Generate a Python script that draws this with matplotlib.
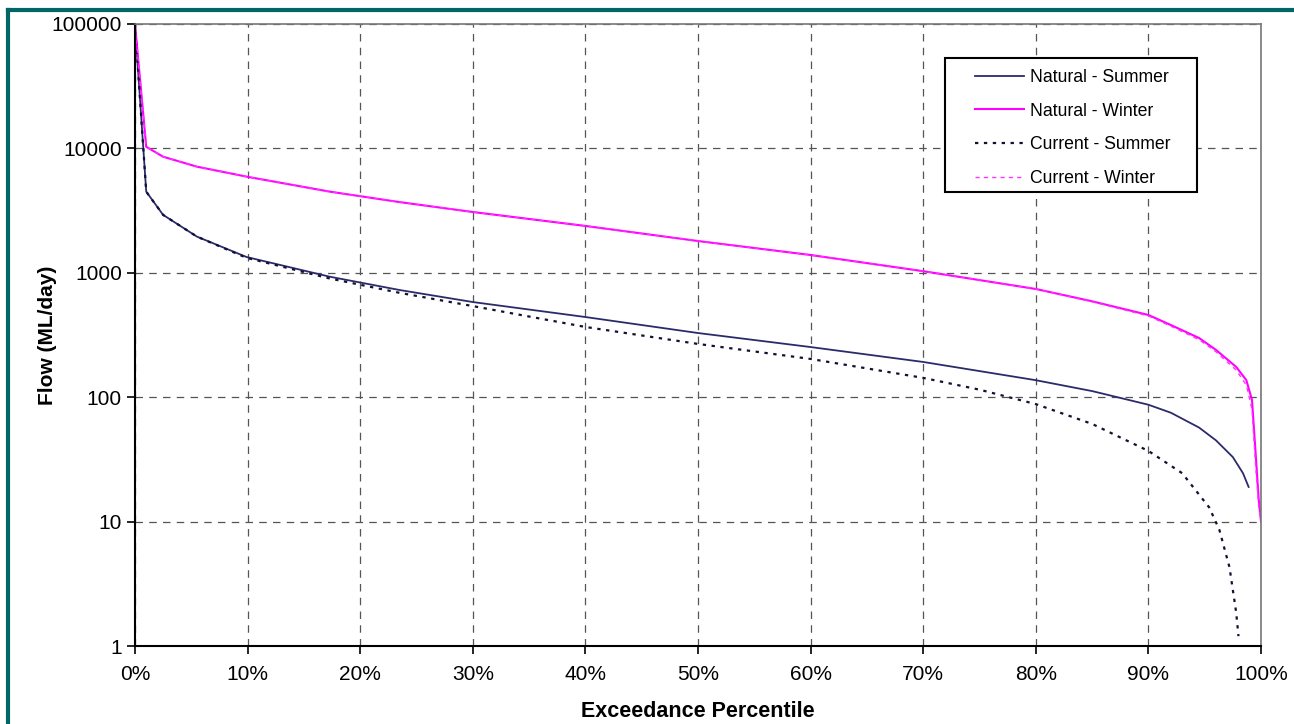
import numpy as np
import matplotlib.pyplot as plt
import matplotlib.patches as mpatches
from matplotlib.ticker import FixedLocator, NullLocator

# Exceedance percentile (%) and flows (ML/day)
nat_sum_x = [0, 1, 2.5, 5.5, 9.9, 17.3, 23.5, 30, 40, 50, 60, 70, 80, 85, 90, 92, 94.5, 96, 97.5, 98.4, 98.9]
nat_sum_y = [100000, 4490, 2920, 1954, 1340, 930, 727, 582, 441, 328, 253, 192, 137, 112, 87, 75, 57, 45, 33, 24.5, 19]

cur_sum_x = [0, 1, 2.5, 5.5, 9.9, 17.3, 23.5, 30, 40, 50, 60, 70, 75, 80, 85, 90, 93, 95.4, 96.3, 97.2, 97.8, 98]
cur_sum_y = [100000, 4490, 2920, 1954, 1320, 900, 690, 540, 367, 268, 203, 143, 115, 88, 61, 37, 24.5, 13, 8.6, 4.3, 1.85, 1.2]

nat_win_x = [0, 1, 2.5, 5.5, 9.9, 17.3, 23.5, 30, 40, 50, 60, 70, 80, 85, 90, 92, 94.5, 96, 97.8, 98.7, 99.2, 99.5, 99.8, 100]
nat_win_y = [100000, 10300, 8570, 7130, 5930, 4490, 3700, 3080, 2380, 1800, 1390, 1030, 741, 590, 458, 380, 299, 240, 175, 137, 95, 38, 15, 10]

cur_win_x = [0, 1, 2.5, 5.5, 9.9, 17.3, 23.5, 30, 40, 50, 60, 70, 80, 85, 90, 92, 94.5, 96, 97.8, 98.7, 99.2, 99.5, 99.8, 100]
cur_win_y = [100000, 10300, 8570, 7130, 5930, 4490, 3700, 3080, 2380, 1800, 1390, 1030, 741, 585, 450, 372, 290, 232, 165, 125, 80, 30, 13, 10]

yticks = [1, 10, 100, 1000, 10000, 100000]
xticks = list(range(0, 101, 10))

plt.rcParams['font.family'] = ['Liberation Sans', 'DejaVu Sans']

fig = plt.figure(figsize=(12.94, 7.24), dpi=100)
ax = fig.add_axes([0.1043, 0.1077, 0.8702, 0.8592])

ax.plot(nat_sum_x, nat_sum_y, color='#2b2b6b', lw=1.3, label='Natural - Summer')
ax.plot(nat_win_x, nat_win_y, color='#ff00ff', lw=1.5, label='Natural - Winter')
ax.plot(cur_sum_x, cur_sum_y, color='#111133', lw=1.6, ls=(0, (1.5, 2.5)), label='Current - Summer')
ax.plot(cur_win_x, cur_win_y, color='#ff33ff', lw=1.0, ls=(0, (3, 3)), label='Current - Winter')

ax.set_yscale('log')
ax.set_ylim(1, 100000)
ax.set_xlim(0, 100)
ax.yaxis.set_major_locator(FixedLocator(yticks))
ax.yaxis.set_minor_locator(NullLocator())
ax.set_yticklabels([str(v) for v in yticks])
ax.xaxis.set_major_locator(FixedLocator(xticks))
ax.set_xticklabels([f'{v}%' for v in xticks])

ax.tick_params(axis='both', labelsize=15, direction='out', length=6, width=1.2, color='black')
ax.tick_params(axis='x', pad=8)
ax.grid(True, color='#555555', ls=(0, (6, 5)), lw=0.9)

for side in ['left', 'bottom']:
    ax.spines[side].set_color('black')
    ax.spines[side].set_linewidth(1.5)
for side in ['top', 'right']:
    ax.spines[side].set_color('#777777')
    ax.spines[side].set_linewidth(1.2)

ax.set_xlabel('Exceedance Percentile', fontsize=15.5, fontweight='bold')
ax.set_ylabel('Flow (ML/day)', fontsize=15, fontweight='bold')
ax.xaxis.set_label_coords(0.5, -0.0885)
ax.yaxis.set_label_coords(-0.069, 0.5)

# legend box drawn separately so it can be wider than the entries
box = mpatches.Rectangle((945 / 1294, 1 - 192 / 724), 252 / 1294, 134 / 724,
                         transform=fig.transFigure, facecolor='white', edgecolor='black',
                         lw=1.5, zorder=4)
fig.add_artist(box)
handles, labels = ax.get_legend_handles_labels()
leg = fig.legend(handles, labels, loc='upper left', bbox_to_anchor=(966 / 1294, 1 - 60 / 724),
                 fontsize=12.7, frameon=False, handlelength=2.8, handletextpad=0.3,
                 labelspacing=0.95, borderpad=0.5, borderaxespad=0)
leg.set_zorder(5)

# teal frame around the figure
fig.add_artist(plt.Line2D([0.0062, 0.0062], [0, 0.986], color='#006666', lw=3, transform=fig.transFigure))
fig.add_artist(plt.Line2D([0.0062, 1.0], [0.986, 0.986], color='#006666', lw=3, transform=fig.transFigure))

fig.savefig('out.png', dpi=100)
